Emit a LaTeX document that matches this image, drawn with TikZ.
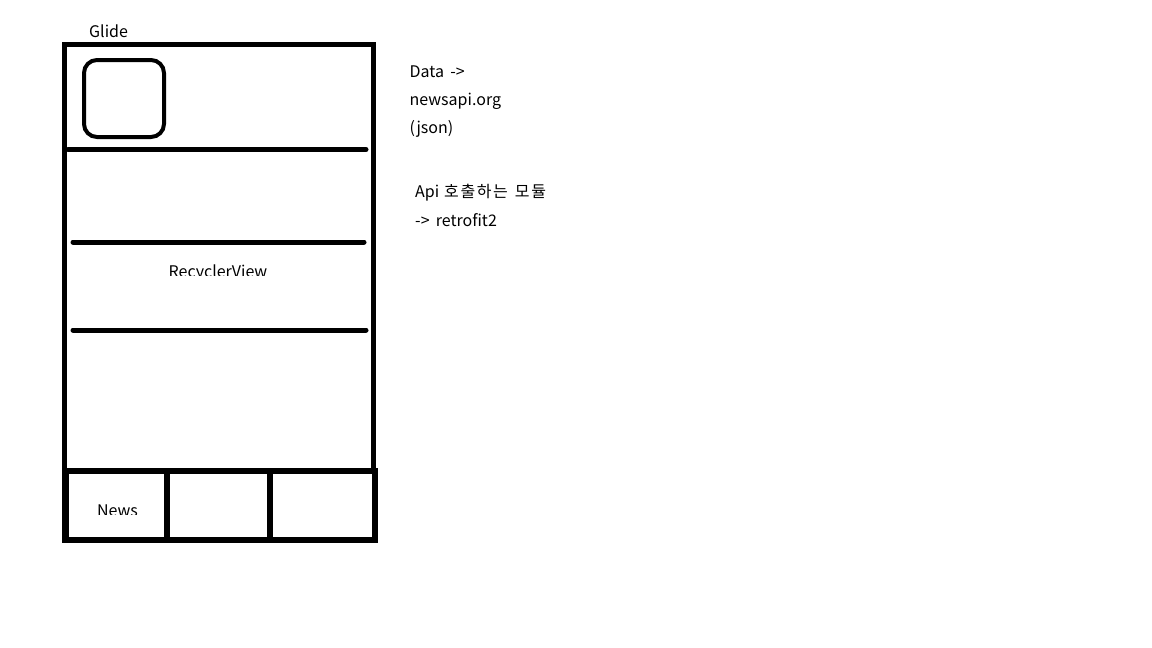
\documentclass[tikz,border=0pt]{standalone}
\usepackage{fontspec}
\setmainfont{Noto Sans CJK KR}
\tikzset{
  frame/.style={line width=5pt, line cap=rect},
  sep/.style={line width=5pt, line cap=round},
  tabbar/.style={line width=6pt},
  lbl/.style={inner sep=0pt, anchor=base west, font=\fontsize{16}{19}\selectfont},
  clbl/.style={inner sep=0pt, anchor=base, font=\fontsize{16}{19}\selectfont}
}
\begin{document}
\begin{tikzpicture}[x=1pt,y=-1pt]
\useasboundingbox[fill=white] (0,0) rectangle (1152,648);
% phone frame
\draw[frame] (64.5,44.5) -- (373,44.5) -- (373,470) (64.5,44.5) -- (64.5,540);
% avatar
\draw[line width=4pt, rounded corners=13pt] (84,60) rectangle (164,137);
% separators
\draw[sep] (68,149.5) -- (366,149.5);
\draw[sep] (73,242) -- (364,242);
\draw[sep] (73,330) -- (366,330);
% tab bar
\draw[tabbar] (65.5,470.5) rectangle (375,540);
\draw[tabbar] (166.5,473) -- (166.5,540);
\draw[tabbar] (269.5,473) -- (269.5,540);
% texts
\node[lbl] (glide) at (89,37) {Glide};
\begin{scope}
\clip (150,250) rectangle (290,275);
\node[clbl] (rv) at (218,277.5) {RecyclerView};
\end{scope}
\begin{scope}
\clip (80,495) rectangle (150,514.5);
\node[clbl] (news) at (117.5,516) {News};
\end{scope}
\node[lbl] (data) at (409.5,77) {Data\ \,-{}>};
\node[lbl] (api) at (409.5,105) {newsapi.org};
\node[lbl] (json) at (409.5,133) {(json)};
\node[lbl] (mod) at (415,197) {Api\hspace{5pt}{\addfontfeature{LetterSpace=10}호출하는}\hspace{7pt}{\addfontfeature{LetterSpace=10}모듈}};
\node[lbl] (retro) at (415,226) {-{}>\ \,retrofit2};
\end{tikzpicture}
\end{document}
